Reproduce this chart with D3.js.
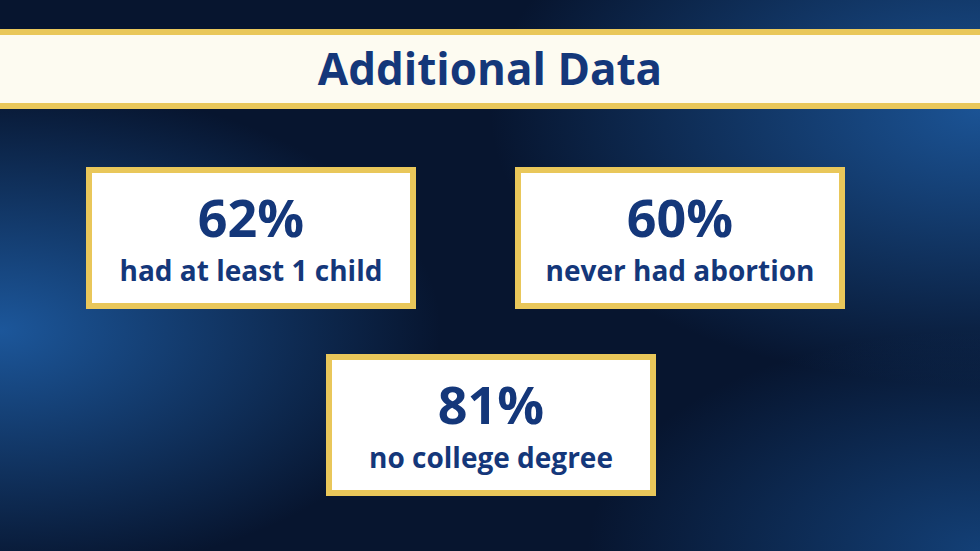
<!DOCTYPE html>
<html><head><meta charset="utf-8">
<script src="https://cdn.jsdelivr.net/npm/d3@7"></script>
<style>body{margin:0;background:#0a1a3a}svg{display:block}</style>
</head><body>
<svg id="c" width="980" height="551"></svg>
<script>
const title = "Additional Data";
const values = ["62%", "60%", "81%"];
const labels = ["had at least 1 child", "never had abortion", "no college degree"];
const boxX = [86, 515, 326];
const boxY = [167, 167, 354];

const svg = d3.select("#c");
const defs = svg.append("defs");
const g1 = defs.append("radialGradient").attr("id","bgL").attr("cx","0%").attr("cy","60%").attr("r","45%");
g1.append("stop").attr("offset","0%").attr("stop-color","#1d5aa0").attr("stop-opacity",0.95);
g1.append("stop").attr("offset","100%").attr("stop-color","#1d5aa0").attr("stop-opacity",0);
const g2 = defs.append("radialGradient").attr("id","bgR").attr("cx","100%").attr("cy","20%").attr("r","50%");
g2.append("stop").attr("offset","0%").attr("stop-color","#1d5aa0").attr("stop-opacity",0.9);
g2.append("stop").attr("offset","100%").attr("stop-color","#1d5aa0").attr("stop-opacity",0);
const g3 = defs.append("radialGradient").attr("id","bgR2").attr("cx","100%").attr("cy","100%").attr("r","40%");
g3.append("stop").attr("offset","0%").attr("stop-color","#164a88").attr("stop-opacity",0.8);
g3.append("stop").attr("offset","100%").attr("stop-color","#164a88").attr("stop-opacity",0);

svg.append("rect").attr("width",980).attr("height",551).attr("fill","#07152f");
svg.append("rect").attr("width",980).attr("height",551).attr("fill","url(#bgL)");
svg.append("rect").attr("width",980).attr("height",551).attr("fill","url(#bgR)");
svg.append("rect").attr("width",980).attr("height",551).attr("fill","url(#bgR2)");

// title bar
svg.append("rect").attr("x",0).attr("y",29).attr("width",980).attr("height",80).attr("fill","#e9c75a");
svg.append("rect").attr("x",0).attr("y",35).attr("width",980).attr("height",68).attr("fill","#fdfbf1");
svg.append("text").attr("x",490).attr("y",85).attr("text-anchor","middle")
  .attr("font-family","Open Sans").attr("font-weight",700).attr("font-size",44)
  .attr("fill","#14377a").text(title);

const x = d3.scaleLinear().domain([0,980]).range([0,980]);
const W = 330, H = 142;
values.forEach((v,i)=>{
  const g = svg.append("g").attr("transform",`translate(${x(boxX[i])},${boxY[i]})`);
  g.append("rect").attr("width",W).attr("height",H).attr("fill","#e9c75a");
  g.append("rect").attr("x",6).attr("y",6).attr("width",W-12).attr("height",H-12).attr("fill","#ffffff");
  g.append("text").attr("x",W/2).attr("y",70).attr("text-anchor","middle")
    .attr("font-family","Open Sans").attr("font-weight",700).attr("font-size",52)
    .attr("fill","#14377a").text(v);
  g.append("text").attr("x",W/2).attr("y",114).attr("text-anchor","middle")
    .attr("font-family","Open Sans").attr("font-weight",700).attr("font-size",28)
    .attr("fill","#14377a").text(labels[i]);
});
</script>
</body></html>
